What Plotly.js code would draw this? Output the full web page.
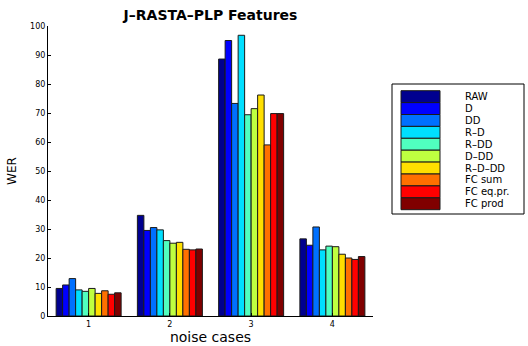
<!DOCTYPE html>
<html>
<head>
<meta charset="utf-8">
<script src="https://cdn.plot.ly/plotly-3.0.1.min.js"></script>
<style>html,body{margin:0;padding:0;background:#fff;}#chart{width:528px;height:346px;}</style>
</head>
<body>
<div id="chart"></div>
<script>
// ---- data ----
const cases = [1, 2, 3, 4];
const seriesNames = ["RAW", "D", "DD", "R\u2013D", "R\u2013DD", "D\u2013DD", "R\u2013D\u2013DD", "FC sum", "FC eq.pr.", "FC prod"];
const seriesColors = ["#00008f", "#0000ff", "#0070ff", "#00dfff", "#50ffbf", "#bfff40", "#ffdf00", "#ff7000", "#ff0000", "#800000"];
const RAW      = [9.5, 34.7, 88.6, 26.6];
const D        = [10.7, 29.5, 95.0, 24.4];
const DD       = [12.9, 30.5, 73.3, 30.7];
const R_D      = [9.0, 29.7, 96.8, 22.8];
const R_DD     = [8.5, 26.0, 69.4, 24.1];
const D_DD     = [9.5, 25.1, 71.5, 23.9];
const R_D_DD   = [7.8, 25.4, 76.2, 21.3];
const FC_sum   = [8.7, 23.0, 59.0, 20.0];
const FC_eqpr  = [7.5, 22.8, 69.8, 19.5];
const FC_prod  = [8.0, 23.1, 69.8, 20.5];
const seriesValues = [RAW, D, DD, R_D, R_DD, D_DD, R_D_DD, FC_sum, FC_eqpr, FC_prod];
const yTicks = [0, 10, 20, 30, 40, 50, 60, 70, 80, 90, 100];

const FONT = "DejaVu Sans, Liberation Sans, Arial, sans-serif";

const traces = seriesNames.map((name, i) => ({
  type: "bar",
  name: name,
  x: cases,
  y: seriesValues[i],
  marker: { color: seriesColors[i], line: { color: "#1a1a1a", width: 1 } },
  showlegend: false,
  hoverinfo: "skip"
}));

// plot area in pixels
const W = 528, H = 346;
const L = 48, R = 373, T = 26, B = 316;
const px = v => (v - L) / (R - L);
const py = v => (B - v) / (B - T);

// custom legend (MATLAB-style big patches)
const shapes = [];
const annotations = [];
const boxL = 392, boxR = 524, boxT = 84, boxB = 214;
shapes.push({ type: "rect", xref: "paper", yref: "paper",
  x0: px(boxL), x1: px(boxR), y0: py(boxB), y1: py(boxT),
  line: { color: "#000", width: 1 }, fillcolor: "#fff" });
const rowTop = 90.7, rowH = 11.9;
seriesNames.forEach((name, i) => {
  const t = rowTop + i * rowH;
  shapes.push({ type: "rect", xref: "paper", yref: "paper",
    x0: px(401), x1: px(440), y0: py(t + rowH), y1: py(t),
    line: { color: "#1a1a1a", width: 1 }, fillcolor: seriesColors[i] });
  annotations.push({ xref: "paper", yref: "paper", x: px(463), y: py(t + rowH / 2),
    xanchor: "left", yanchor: "middle", showarrow: false, text: name,
    font: { family: FONT, size: 10, color: "#000" } });
});

const layout = {
  width: W, height: H,
  margin: { l: L, r: W - R, t: T, b: H - B, pad: 0 },
  paper_bgcolor: "#fff", plot_bgcolor: "#fff",
  font: { family: FONT, color: "#000" },
  title: { text: "<b>J\u2013RASTA\u2013PLP Features</b>", font: { family: FONT, size: 14, color: "#000" },
    x: 0.5, xref: "paper", xanchor: "center", y: 1 - 15 / H, yref: "container", yanchor: "middle" },
  barmode: "group", bargap: 0.2, bargroupgap: 0,
  xaxis: {
    range: [0.5, 4.5], tickvals: cases, ticktext: cases.map(String),
    ticks: "inside", ticklen: 3, tickcolor: "#000",
    showline: true, linecolor: "#000", linewidth: 1, showgrid: false, zeroline: false,
    tickfont: { family: FONT, size: 8, color: "#000" },
    title: { text: "noise cases", font: { family: FONT, size: 14, color: "#000" }, standoff: 4 },
    fixedrange: true
  },
  yaxis: {
    range: [0, 100], tickvals: yTicks,
    ticks: "inside", ticklen: 3, tickcolor: "#000",
    showline: true, linecolor: "#000", linewidth: 1, showgrid: false, zeroline: false,
    tickfont: { family: FONT, size: 8, color: "#000" },
    title: { text: "WER", font: { family: FONT, size: 12, color: "#000" }, standoff: 10 },
    fixedrange: true
  },
  shapes: shapes,
  annotations: annotations,
  showlegend: false
};

Plotly.newPlot("chart", traces, layout, { displayModeBar: false, staticPlot: true });
</script>
</body>
</html>
